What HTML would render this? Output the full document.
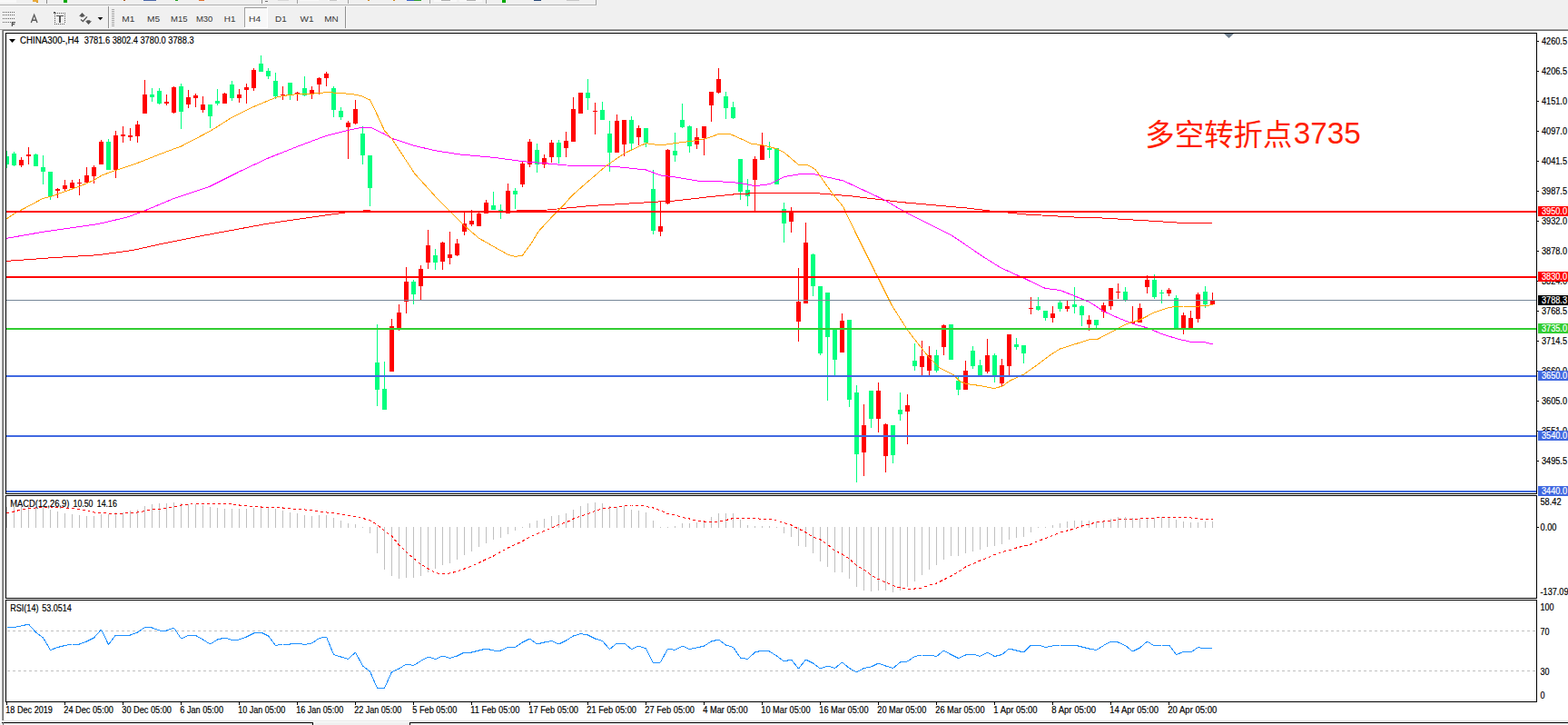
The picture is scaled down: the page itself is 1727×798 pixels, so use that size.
<!DOCTYPE html>
<html><head><meta charset="utf-8"><title>CHINA300-,H4</title>
<style>html,body{margin:0;padding:0;background:#f0f0f0;overflow:hidden}body{width:1727px;height:798px;position:relative;font-family:"Liberation Sans",sans-serif}svg{position:absolute;left:0;top:0;display:block}text{font-family:"Liberation Sans",sans-serif}</style>
</head><body>
<svg width="1727" height="798" viewBox="0 0 1727 798">
<rect x="0" y="0" width="1727" height="798" fill="#f0f0f0"/>
<g shape-rendering="crispEdges">
<rect x="0" y="0" width="18" height="3" fill="#f8f8f8"/>
<rect x="36" y="0" width="6" height="2" fill="#e8a93a"/>
<rect x="40" y="2" width="2" height="1" fill="#d89020"/>
<rect x="51" y="0" width="1" height="4" fill="#8c8c8c"/>
<rect x="70" y="0" width="4" height="3" fill="#00a800"/>
<rect x="136" y="0" width="2" height="1" fill="#a85a10"/>
<rect x="158" y="0" width="14" height="1" fill="#4a66a8"/>
<rect x="193" y="0" width="3" height="1" fill="#20a020"/>
<rect x="219" y="0" width="6" height="1" fill="#e07030"/>
<rect x="288" y="0" width="1" height="4" fill="#8c8c8c"/>
<rect x="292" y="1" width="3" height="1" fill="#707070"/>
<rect x="306" y="0" width="12" height="1" fill="#d8d8d8"/>
<rect x="327" y="0" width="1" height="4" fill="#a0a0a0"/>
<rect x="330" y="0" width="21" height="1" fill="#f8f8f8"/>
<rect x="361" y="0" width="13" height="1" fill="#f8f8f8"/>
<rect x="363" y="0" width="8" height="1" fill="#c8c8c8"/>
<rect x="383" y="0" width="1" height="4" fill="#a0a0a0"/>
<rect x="405" y="0" width="2" height="1" fill="#d08a20"/>
<rect x="433" y="0" width="2" height="1" fill="#d08a20"/>
<rect x="448" y="0" width="8" height="1" fill="#3a62c8"/>
<rect x="456" y="0" width="8" height="1" fill="#30a030"/>
<rect x="473" y="0" width="1" height="4" fill="#a0a0a0"/>
<rect x="478" y="0" width="25" height="2" fill="#f8f8f8"/>
<rect x="486" y="0" width="10" height="1" fill="#b0b0b0"/>
<rect x="506" y="0" width="25" height="2" fill="#f8f8f8"/>
<rect x="514" y="0" width="10" height="1" fill="#b0b0b0"/>
<rect x="535" y="0" width="1" height="4" fill="#a0a0a0"/>
<rect x="553" y="0" width="4" height="3" fill="#00a800"/>
<rect x="588" y="0" width="8" height="1" fill="#284878"/>
<rect x="624" y="0" width="14" height="1" fill="#c8c8c8"/>
<rect x="656" y="0" width="1" height="6" fill="#a0a0a0"/>
<rect x="0" y="5" width="657" height="1" fill="#b0b0b0"/>
<rect x="0" y="6" width="656" height="1" fill="#f8f8f8"/>
<rect x="3" y="13" width="1" height="1" fill="#606060"/>
<rect x="5" y="13" width="1" height="1" fill="#606060"/>
<rect x="7" y="13" width="1" height="1" fill="#606060"/>
<rect x="9" y="13" width="1" height="1" fill="#606060"/>
<rect x="11" y="13" width="1" height="1" fill="#606060"/>
<rect x="13" y="13" width="1" height="1" fill="#606060"/>
<rect x="15" y="13" width="1" height="1" fill="#606060"/>
<rect x="3" y="16" width="1" height="1" fill="#606060"/>
<rect x="5" y="16" width="1" height="1" fill="#606060"/>
<rect x="7" y="16" width="1" height="1" fill="#606060"/>
<rect x="9" y="16" width="1" height="1" fill="#606060"/>
<rect x="11" y="16" width="1" height="1" fill="#606060"/>
<rect x="13" y="16" width="1" height="1" fill="#606060"/>
<rect x="15" y="16" width="1" height="1" fill="#606060"/>
<rect x="3" y="20" width="1" height="1" fill="#606060"/>
<rect x="5" y="20" width="1" height="1" fill="#606060"/>
<rect x="7" y="20" width="1" height="1" fill="#606060"/>
<rect x="9" y="20" width="1" height="1" fill="#606060"/>
<rect x="11" y="20" width="1" height="1" fill="#606060"/>
<rect x="13" y="20" width="1" height="1" fill="#606060"/>
<rect x="15" y="20" width="1" height="1" fill="#606060"/>
<rect x="3" y="24" width="1" height="1" fill="#606060"/>
<rect x="5" y="24" width="1" height="1" fill="#606060"/>
<rect x="7" y="24" width="1" height="1" fill="#606060"/>
<rect x="9" y="24" width="1" height="1" fill="#606060"/>
<rect x="11" y="24" width="1" height="1" fill="#606060"/>
</g>
<path d="M13.4 28.9 V24.6 H16.9 M13.4 26.7 H16.2" fill="none" stroke="#505050" stroke-width="1.25"/>
<path d="M34.3 25 L37.65 16.3 L41 25 M35.6 22.2 H39.7" fill="none" stroke="#5a5a5a" stroke-width="1.35" stroke-linejoin="miter"/>
<g shape-rendering="crispEdges">
<rect x="63" y="14" width="1" height="1" fill="#585858"/>
<rect x="65" y="14" width="1" height="1" fill="#585858"/>
<rect x="67" y="14" width="1" height="1" fill="#585858"/>
<rect x="69" y="14" width="1" height="1" fill="#585858"/>
<rect x="71" y="14" width="1" height="1" fill="#585858"/>
<rect x="59" y="13" width="2" height="1" fill="#585858"/>
<rect x="59" y="14" width="3" height="1" fill="#585858"/>
<rect x="60" y="16" width="1" height="1" fill="#585858"/>
<rect x="60" y="18" width="1" height="1" fill="#585858"/>
<rect x="60" y="20" width="1" height="1" fill="#585858"/>
<rect x="60" y="22" width="1" height="1" fill="#585858"/>
<rect x="60" y="24" width="1" height="1" fill="#585858"/>
<rect x="60" y="26" width="1" height="1" fill="#585858"/>
<rect x="71" y="16" width="1" height="1" fill="#585858"/>
<rect x="71" y="18" width="1" height="1" fill="#585858"/>
<rect x="71" y="20" width="1" height="1" fill="#585858"/>
<rect x="71" y="22" width="1" height="1" fill="#585858"/>
<rect x="71" y="24" width="1" height="1" fill="#585858"/>
<rect x="62" y="26" width="1" height="1" fill="#585858"/>
<rect x="64" y="26" width="1" height="1" fill="#585858"/>
<rect x="66" y="26" width="1" height="1" fill="#585858"/>
<rect x="68" y="26" width="1" height="1" fill="#585858"/>
<rect x="70" y="26" width="1" height="1" fill="#585858"/>
<rect x="62" y="17" width="8" height="1" fill="#555555"/>
<rect x="65" y="17" width="2" height="8" fill="#555555"/>
</g>
<path d="M90.5 14 L94 17.8 L92.2 17.8 L92.2 18.8 L88.8 18.8 L88.8 17.8 L87 17.8 Z" fill="#555"/>
<path d="M97.5 27 L101 23.2 L99.2 23.2 L99.2 22.3 L95.6 22.3 L95.6 23.2 L94 23.2 Z" fill="#555"/>
<path d="M89 21.4 L91.4 23.5 L95.9 18.4" fill="none" stroke="#555" stroke-width="1.3"/>
<path d="M107.6 19 L113.4 19 L110.5 22.3 Z" fill="#111"/>
<g shape-rendering="crispEdges">
<rect x="119" y="7" width="1" height="25" fill="#909090"/>
<rect x="120" y="7" width="1" height="25" fill="#fafafa"/>
<rect x="123" y="10" width="3" height="1" fill="#a8a8a8"/>
<rect x="123" y="12" width="3" height="1" fill="#a8a8a8"/>
<rect x="123" y="14" width="3" height="1" fill="#a8a8a8"/>
<rect x="123" y="16" width="3" height="1" fill="#a8a8a8"/>
<rect x="123" y="18" width="3" height="1" fill="#a8a8a8"/>
<rect x="123" y="20" width="3" height="1" fill="#a8a8a8"/>
<rect x="123" y="22" width="3" height="1" fill="#a8a8a8"/>
<rect x="123" y="24" width="3" height="1" fill="#a8a8a8"/>
<rect x="123" y="26" width="3" height="1" fill="#a8a8a8"/>
<rect x="123" y="28" width="3" height="1" fill="#a8a8a8"/>
<rect x="269" y="8" width="26" height="23" fill="#f8f8f8"/>
<rect x="269" y="8" width="25" height="1" fill="#a0a0a0"/>
<rect x="269" y="8" width="1" height="22" fill="#a0a0a0"/>
<rect x="294" y="8" width="1" height="23" fill="#ffffff"/>
<rect x="269" y="30" width="26" height="1" fill="#ffffff"/>
<rect x="380" y="7" width="1" height="25" fill="#909090"/>
<rect x="381" y="7" width="1" height="25" fill="#fafafa"/>
</g>
<text x="134.2" y="24" font-size="9.8" fill="#383838" textLength="14.1" lengthAdjust="spacingAndGlyphs">M1</text>
<text x="162" y="24" font-size="9.8" fill="#383838" textLength="14.1" lengthAdjust="spacingAndGlyphs">M5</text>
<text x="188.1" y="24" font-size="9.8" fill="#383838" textLength="18.5" lengthAdjust="spacingAndGlyphs">M15</text>
<text x="215.9" y="24" font-size="9.8" fill="#383838" textLength="18.5" lengthAdjust="spacingAndGlyphs">M30</text>
<text x="246.8" y="24" font-size="9.8" fill="#383838" textLength="12.7" lengthAdjust="spacingAndGlyphs">H1</text>
<text x="274.1" y="24" font-size="9.8" fill="#383838" textLength="13.1" lengthAdjust="spacingAndGlyphs">H4</text>
<text x="303" y="24" font-size="9.8" fill="#383838" textLength="12.7" lengthAdjust="spacingAndGlyphs">D1</text>
<text x="330.6" y="24" font-size="9.8" fill="#383838" textLength="15" lengthAdjust="spacingAndGlyphs">W1</text>
<text x="357.2" y="24" font-size="9.8" fill="#383838" textLength="15.5" lengthAdjust="spacingAndGlyphs">MN</text>
<g shape-rendering="crispEdges">
<rect x="0" y="31" width="1727" height="1" fill="#f8f8f8"/>
<rect x="0" y="32" width="1727" height="1" fill="#a0a0a0"/>
<rect x="3" y="33" width="1724" height="1" fill="#696969"/>
<rect x="2" y="32" width="1" height="761" fill="#a0a0a0"/>
<rect x="3" y="33" width="1" height="760" fill="#696969"/>
<rect x="4" y="34" width="1723" height="759" fill="#ffffff"/>
<rect x="0" y="33" width="2" height="760" fill="#f6f6f6"/>
<rect x="0" y="793" width="1727" height="1" fill="#fafafa"/>
<rect x="4" y="793" width="1723" height="1" fill="#e6e6e6"/>
<rect x="0" y="794" width="1727" height="1" fill="#fcfcfc"/>
<rect x="0" y="795" width="1727" height="3" fill="#f0f0f0"/>
<rect x="2" y="795" width="343" height="1" fill="#000000"/>
<rect x="344" y="795" width="1" height="3" fill="#000000"/>
<rect x="3" y="795" width="1" height="3" fill="#696969"/>
<rect x="451" y="795" width="1276" height="1" fill="#000000"/>
<rect x="451" y="795" width="1" height="3" fill="#000000"/>
<rect x="4" y="796" width="340" height="2" fill="#f4f4f4"/>
<rect x="452" y="796" width="1275" height="2" fill="#f4f4f4"/>
</g>
<rect x="6.5" y="36.5" width="1686" height="507" fill="#ffffff" stroke="#000" stroke-width="1" shape-rendering="crispEdges"/>
<rect x="6.5" y="545.5" width="1686" height="113" fill="#ffffff" stroke="#000" stroke-width="1" shape-rendering="crispEdges"/>
<rect x="6.5" y="660.5" width="1686" height="112" fill="#ffffff" stroke="#000" stroke-width="1" shape-rendering="crispEdges"/>
<defs><clipPath id="cm"><rect x="7" y="37" width="1685" height="506"/></clipPath></defs>
<g clip-path="url(#cm)" shape-rendering="crispEdges">
<rect x="7" y="166" width="1" height="19" fill="#00ff7f"/>
<rect x="5" y="172" width="5" height="9" fill="#00ff7f"/>
<rect x="15" y="167" width="1" height="16" fill="#00ff7f"/>
<rect x="13" y="169" width="5" height="13" fill="#00ff7f"/>
<rect x="23" y="173" width="1" height="11" fill="#ff0000"/>
<rect x="21" y="176" width="5" height="6" fill="#ff0000"/>
<rect x="31" y="162" width="1" height="19" fill="#ff0000"/>
<rect x="29" y="170" width="5" height="2" fill="#ff0000"/>
<rect x="39" y="169" width="1" height="14" fill="#00ff7f"/>
<rect x="37" y="170" width="5" height="13" fill="#00ff7f"/>
<rect x="47" y="171" width="1" height="32" fill="#00ff7f"/>
<rect x="45" y="184" width="5" height="5" fill="#00ff7f"/>
<rect x="55" y="189" width="1" height="31" fill="#00ff7f"/>
<rect x="53" y="189" width="5" height="27" fill="#00ff7f"/>
<rect x="63" y="207" width="1" height="11" fill="#ff0000"/>
<rect x="61" y="208" width="5" height="2" fill="#ff0000"/>
<rect x="71" y="198" width="1" height="13" fill="#ff0000"/>
<rect x="69" y="204" width="5" height="4" fill="#ff0000"/>
<rect x="79" y="198" width="1" height="11" fill="#ff0000"/>
<rect x="77" y="201" width="5" height="6" fill="#ff0000"/>
<rect x="87" y="197" width="1" height="18" fill="#ff0000"/>
<rect x="85" y="201" width="5" height="1" fill="#ff0000"/>
<rect x="95" y="184" width="1" height="17" fill="#ff0000"/>
<rect x="93" y="193" width="5" height="8" fill="#ff0000"/>
<rect x="103" y="182" width="1" height="20" fill="#ff0000"/>
<rect x="101" y="184" width="5" height="10" fill="#ff0000"/>
<rect x="111" y="154" width="1" height="27" fill="#ff0000"/>
<rect x="109" y="156" width="5" height="25" fill="#ff0000"/>
<rect x="119" y="153" width="1" height="34" fill="#00ff7f"/>
<rect x="117" y="156" width="5" height="31" fill="#00ff7f"/>
<rect x="127" y="144" width="1" height="52" fill="#ff0000"/>
<rect x="125" y="149" width="5" height="38" fill="#ff0000"/>
<rect x="135" y="139" width="1" height="18" fill="#ff0000"/>
<rect x="133" y="148" width="5" height="2" fill="#ff0000"/>
<rect x="143" y="141" width="1" height="14" fill="#ff0000"/>
<rect x="141" y="149" width="5" height="2" fill="#ff0000"/>
<rect x="151" y="133" width="1" height="24" fill="#ff0000"/>
<rect x="149" y="137" width="5" height="13" fill="#ff0000"/>
<rect x="159" y="88" width="1" height="37" fill="#ff0000"/>
<rect x="157" y="104" width="5" height="21" fill="#ff0000"/>
<rect x="167" y="97" width="1" height="15" fill="#00ff7f"/>
<rect x="165" y="104" width="5" height="3" fill="#00ff7f"/>
<rect x="175" y="97" width="1" height="18" fill="#00ff7f"/>
<rect x="173" y="100" width="5" height="14" fill="#00ff7f"/>
<rect x="183" y="104" width="1" height="12" fill="#ff0000"/>
<rect x="181" y="112" width="5" height="2" fill="#ff0000"/>
<rect x="191" y="95" width="1" height="30" fill="#ff0000"/>
<rect x="189" y="96" width="5" height="28" fill="#ff0000"/>
<rect x="199" y="92" width="1" height="50" fill="#00ff7f"/>
<rect x="197" y="95" width="5" height="28" fill="#00ff7f"/>
<rect x="207" y="99" width="1" height="20" fill="#ff0000"/>
<rect x="205" y="107" width="5" height="8" fill="#ff0000"/>
<rect x="215" y="103" width="1" height="15" fill="#ff0000"/>
<rect x="213" y="105" width="5" height="3" fill="#ff0000"/>
<rect x="223" y="106" width="1" height="18" fill="#ff0000"/>
<rect x="221" y="115" width="5" height="6" fill="#ff0000"/>
<rect x="231" y="115" width="1" height="26" fill="#00ff7f"/>
<rect x="229" y="115" width="5" height="13" fill="#00ff7f"/>
<rect x="239" y="98" width="1" height="18" fill="#00ff7f"/>
<rect x="237" y="111" width="5" height="3" fill="#00ff7f"/>
<rect x="247" y="102" width="1" height="12" fill="#ff0000"/>
<rect x="245" y="103" width="5" height="11" fill="#ff0000"/>
<rect x="255" y="89" width="1" height="22" fill="#00ff7f"/>
<rect x="253" y="93" width="5" height="15" fill="#00ff7f"/>
<rect x="263" y="98" width="1" height="15" fill="#ff0000"/>
<rect x="261" y="104" width="5" height="4" fill="#ff0000"/>
<rect x="271" y="92" width="1" height="22" fill="#ff0000"/>
<rect x="269" y="96" width="5" height="3" fill="#ff0000"/>
<rect x="279" y="75" width="1" height="25" fill="#ff0000"/>
<rect x="277" y="77" width="5" height="20" fill="#ff0000"/>
<rect x="287" y="61" width="1" height="18" fill="#00ff7f"/>
<rect x="285" y="70" width="5" height="9" fill="#00ff7f"/>
<rect x="295" y="75" width="1" height="12" fill="#00ff7f"/>
<rect x="293" y="78" width="5" height="6" fill="#00ff7f"/>
<rect x="303" y="80" width="1" height="29" fill="#00ff7f"/>
<rect x="301" y="89" width="5" height="17" fill="#00ff7f"/>
<rect x="311" y="95" width="1" height="15" fill="#ff0000"/>
<rect x="309" y="104" width="5" height="1" fill="#ff0000"/>
<rect x="319" y="91" width="1" height="19" fill="#00ff7f"/>
<rect x="317" y="91" width="5" height="14" fill="#00ff7f"/>
<rect x="327" y="101" width="1" height="10" fill="#ff0000"/>
<rect x="325" y="102" width="5" height="2" fill="#ff0000"/>
<rect x="335" y="84" width="1" height="22" fill="#00ff7f"/>
<rect x="333" y="97" width="5" height="8" fill="#00ff7f"/>
<rect x="343" y="95" width="1" height="14" fill="#ff0000"/>
<rect x="341" y="99" width="5" height="4" fill="#ff0000"/>
<rect x="351" y="85" width="1" height="19" fill="#ff0000"/>
<rect x="349" y="86" width="5" height="7" fill="#ff0000"/>
<rect x="359" y="79" width="1" height="16" fill="#ff0000"/>
<rect x="357" y="81" width="5" height="5" fill="#ff0000"/>
<rect x="367" y="95" width="1" height="34" fill="#00ff7f"/>
<rect x="365" y="97" width="5" height="24" fill="#00ff7f"/>
<rect x="375" y="118" width="1" height="14" fill="#00ff7f"/>
<rect x="373" y="122" width="5" height="7" fill="#00ff7f"/>
<rect x="383" y="133" width="1" height="42" fill="#ff0000"/>
<rect x="381" y="135" width="5" height="5" fill="#ff0000"/>
<rect x="391" y="110" width="1" height="27" fill="#ff0000"/>
<rect x="389" y="120" width="5" height="16" fill="#ff0000"/>
<rect x="399" y="139" width="1" height="42" fill="#00ff7f"/>
<rect x="397" y="147" width="5" height="24" fill="#00ff7f"/>
<rect x="407" y="171" width="1" height="56" fill="#00ff7f"/>
<rect x="405" y="171" width="5" height="36" fill="#00ff7f"/>
<rect x="415" y="357" width="1" height="90" fill="#00ff7f"/>
<rect x="413" y="399" width="5" height="30" fill="#00ff7f"/>
<rect x="423" y="398" width="1" height="53" fill="#00ff7f"/>
<rect x="421" y="428" width="5" height="23" fill="#00ff7f"/>
<rect x="431" y="351" width="1" height="58" fill="#ff0000"/>
<rect x="429" y="359" width="5" height="50" fill="#ff0000"/>
<rect x="439" y="335" width="1" height="29" fill="#ff0000"/>
<rect x="437" y="344" width="5" height="18" fill="#ff0000"/>
<rect x="447" y="294" width="1" height="51" fill="#ff0000"/>
<rect x="445" y="310" width="5" height="22" fill="#ff0000"/>
<rect x="455" y="308" width="1" height="27" fill="#00ff7f"/>
<rect x="453" y="310" width="5" height="14" fill="#00ff7f"/>
<rect x="463" y="292" width="1" height="39" fill="#ff0000"/>
<rect x="461" y="296" width="5" height="19" fill="#ff0000"/>
<rect x="471" y="253" width="1" height="43" fill="#ff0000"/>
<rect x="469" y="270" width="5" height="19" fill="#ff0000"/>
<rect x="479" y="274" width="1" height="23" fill="#00ff7f"/>
<rect x="477" y="281" width="5" height="8" fill="#00ff7f"/>
<rect x="487" y="266" width="1" height="31" fill="#ff0000"/>
<rect x="485" y="267" width="5" height="21" fill="#ff0000"/>
<rect x="495" y="255" width="1" height="36" fill="#ff0000"/>
<rect x="493" y="280" width="5" height="4" fill="#ff0000"/>
<rect x="503" y="263" width="1" height="19" fill="#ff0000"/>
<rect x="501" y="268" width="5" height="13" fill="#ff0000"/>
<rect x="511" y="233" width="1" height="26" fill="#ff0000"/>
<rect x="509" y="246" width="5" height="9" fill="#ff0000"/>
<rect x="519" y="231" width="1" height="18" fill="#ff0000"/>
<rect x="517" y="243" width="5" height="4" fill="#ff0000"/>
<rect x="527" y="234" width="1" height="15" fill="#ff0000"/>
<rect x="525" y="235" width="5" height="14" fill="#ff0000"/>
<rect x="535" y="220" width="1" height="15" fill="#ff0000"/>
<rect x="533" y="223" width="5" height="12" fill="#ff0000"/>
<rect x="543" y="211" width="1" height="20" fill="#00ff7f"/>
<rect x="541" y="226" width="5" height="5" fill="#00ff7f"/>
<rect x="551" y="225" width="1" height="16" fill="#00ff7f"/>
<rect x="549" y="231" width="5" height="1" fill="#00ff7f"/>
<rect x="559" y="202" width="1" height="33" fill="#ff0000"/>
<rect x="557" y="210" width="5" height="25" fill="#ff0000"/>
<rect x="567" y="207" width="1" height="23" fill="#00ff7f"/>
<rect x="565" y="210" width="5" height="4" fill="#00ff7f"/>
<rect x="575" y="178" width="1" height="28" fill="#ff0000"/>
<rect x="573" y="180" width="5" height="23" fill="#ff0000"/>
<rect x="583" y="153" width="1" height="31" fill="#ff0000"/>
<rect x="581" y="156" width="5" height="25" fill="#ff0000"/>
<rect x="591" y="158" width="1" height="32" fill="#00ff7f"/>
<rect x="589" y="165" width="5" height="16" fill="#00ff7f"/>
<rect x="599" y="170" width="1" height="15" fill="#ff0000"/>
<rect x="597" y="174" width="5" height="7" fill="#ff0000"/>
<rect x="607" y="154" width="1" height="25" fill="#ff0000"/>
<rect x="605" y="157" width="5" height="16" fill="#ff0000"/>
<rect x="615" y="154" width="1" height="26" fill="#00ff7f"/>
<rect x="613" y="157" width="5" height="16" fill="#00ff7f"/>
<rect x="623" y="145" width="1" height="28" fill="#ff0000"/>
<rect x="621" y="155" width="5" height="8" fill="#ff0000"/>
<rect x="631" y="107" width="1" height="49" fill="#ff0000"/>
<rect x="629" y="120" width="5" height="36" fill="#ff0000"/>
<rect x="639" y="102" width="1" height="23" fill="#ff0000"/>
<rect x="637" y="102" width="5" height="23" fill="#ff0000"/>
<rect x="647" y="87" width="1" height="34" fill="#00ff7f"/>
<rect x="645" y="102" width="5" height="6" fill="#00ff7f"/>
<rect x="655" y="113" width="1" height="35" fill="#ff0000"/>
<rect x="653" y="122" width="5" height="1" fill="#ff0000"/>
<rect x="663" y="112" width="1" height="20" fill="#00ff7f"/>
<rect x="661" y="121" width="5" height="11" fill="#00ff7f"/>
<rect x="671" y="133" width="1" height="56" fill="#00ff7f"/>
<rect x="669" y="147" width="5" height="21" fill="#00ff7f"/>
<rect x="679" y="126" width="1" height="42" fill="#ff0000"/>
<rect x="677" y="133" width="5" height="35" fill="#ff0000"/>
<rect x="687" y="132" width="1" height="40" fill="#ff0000"/>
<rect x="685" y="132" width="5" height="27" fill="#ff0000"/>
<rect x="695" y="128" width="1" height="37" fill="#00ff7f"/>
<rect x="693" y="132" width="5" height="26" fill="#00ff7f"/>
<rect x="703" y="138" width="1" height="22" fill="#ff0000"/>
<rect x="701" y="141" width="5" height="10" fill="#ff0000"/>
<rect x="711" y="141" width="1" height="21" fill="#00ff7f"/>
<rect x="709" y="141" width="5" height="16" fill="#00ff7f"/>
<rect x="719" y="187" width="1" height="71" fill="#00ff7f"/>
<rect x="717" y="208" width="5" height="46" fill="#00ff7f"/>
<rect x="727" y="221" width="1" height="39" fill="#ff0000"/>
<rect x="725" y="249" width="5" height="6" fill="#ff0000"/>
<rect x="735" y="164" width="1" height="61" fill="#ff0000"/>
<rect x="733" y="165" width="5" height="59" fill="#ff0000"/>
<rect x="743" y="146" width="1" height="32" fill="#00ff7f"/>
<rect x="741" y="166" width="5" height="5" fill="#00ff7f"/>
<rect x="751" y="114" width="1" height="27" fill="#00ff7f"/>
<rect x="749" y="132" width="5" height="8" fill="#00ff7f"/>
<rect x="759" y="138" width="1" height="30" fill="#00ff7f"/>
<rect x="757" y="139" width="5" height="22" fill="#00ff7f"/>
<rect x="767" y="141" width="1" height="23" fill="#ff0000"/>
<rect x="765" y="151" width="5" height="8" fill="#ff0000"/>
<rect x="775" y="139" width="1" height="32" fill="#ff0000"/>
<rect x="773" y="139" width="5" height="13" fill="#ff0000"/>
<rect x="783" y="101" width="1" height="33" fill="#ff0000"/>
<rect x="781" y="101" width="5" height="15" fill="#ff0000"/>
<rect x="791" y="75" width="1" height="28" fill="#ff0000"/>
<rect x="789" y="87" width="5" height="15" fill="#ff0000"/>
<rect x="799" y="101" width="1" height="30" fill="#00ff7f"/>
<rect x="797" y="106" width="5" height="13" fill="#00ff7f"/>
<rect x="807" y="112" width="1" height="19" fill="#00ff7f"/>
<rect x="805" y="118" width="5" height="12" fill="#00ff7f"/>
<rect x="815" y="175" width="1" height="45" fill="#00ff7f"/>
<rect x="813" y="175" width="5" height="36" fill="#00ff7f"/>
<rect x="823" y="197" width="1" height="30" fill="#00ff7f"/>
<rect x="821" y="209" width="5" height="7" fill="#00ff7f"/>
<rect x="831" y="172" width="1" height="62" fill="#ff0000"/>
<rect x="829" y="175" width="5" height="23" fill="#ff0000"/>
<rect x="839" y="146" width="1" height="30" fill="#ff0000"/>
<rect x="837" y="160" width="5" height="16" fill="#ff0000"/>
<rect x="847" y="156" width="1" height="18" fill="#00ff7f"/>
<rect x="845" y="163" width="5" height="2" fill="#00ff7f"/>
<rect x="855" y="163" width="1" height="40" fill="#00ff7f"/>
<rect x="853" y="163" width="5" height="40" fill="#00ff7f"/>
<rect x="863" y="223" width="1" height="44" fill="#00ff7f"/>
<rect x="861" y="230" width="5" height="16" fill="#00ff7f"/>
<rect x="871" y="228" width="1" height="28" fill="#ff0000"/>
<rect x="869" y="232" width="5" height="12" fill="#ff0000"/>
<rect x="879" y="295" width="1" height="81" fill="#ff0000"/>
<rect x="877" y="332" width="5" height="22" fill="#ff0000"/>
<rect x="887" y="245" width="1" height="89" fill="#ff0000"/>
<rect x="885" y="267" width="5" height="67" fill="#ff0000"/>
<rect x="895" y="279" width="1" height="47" fill="#00ff7f"/>
<rect x="893" y="280" width="5" height="35" fill="#00ff7f"/>
<rect x="903" y="315" width="1" height="76" fill="#00ff7f"/>
<rect x="901" y="315" width="5" height="74" fill="#00ff7f"/>
<rect x="911" y="322" width="1" height="119" fill="#00ff7f"/>
<rect x="909" y="322" width="5" height="49" fill="#00ff7f"/>
<rect x="919" y="362" width="1" height="51" fill="#00ff7f"/>
<rect x="917" y="362" width="5" height="34" fill="#00ff7f"/>
<rect x="927" y="345" width="1" height="43" fill="#ff0000"/>
<rect x="925" y="353" width="5" height="35" fill="#ff0000"/>
<rect x="935" y="352" width="1" height="96" fill="#00ff7f"/>
<rect x="933" y="352" width="5" height="88" fill="#00ff7f"/>
<rect x="943" y="424" width="1" height="107" fill="#00ff7f"/>
<rect x="941" y="432" width="5" height="68" fill="#00ff7f"/>
<rect x="951" y="445" width="1" height="79" fill="#ff0000"/>
<rect x="949" y="468" width="5" height="30" fill="#ff0000"/>
<rect x="959" y="430" width="1" height="41" fill="#00ff7f"/>
<rect x="957" y="430" width="5" height="31" fill="#00ff7f"/>
<rect x="967" y="421" width="1" height="55" fill="#ff0000"/>
<rect x="965" y="430" width="5" height="31" fill="#ff0000"/>
<rect x="975" y="466" width="1" height="54" fill="#ff0000"/>
<rect x="973" y="467" width="5" height="35" fill="#ff0000"/>
<rect x="983" y="468" width="1" height="42" fill="#00ff7f"/>
<rect x="981" y="468" width="5" height="33" fill="#00ff7f"/>
<rect x="991" y="432" width="1" height="31" fill="#00ff7f"/>
<rect x="989" y="451" width="5" height="5" fill="#00ff7f"/>
<rect x="999" y="434" width="1" height="55" fill="#ff0000"/>
<rect x="997" y="446" width="5" height="7" fill="#ff0000"/>
<rect x="1007" y="378" width="1" height="30" fill="#00ff7f"/>
<rect x="1005" y="397" width="5" height="6" fill="#00ff7f"/>
<rect x="1015" y="375" width="1" height="38" fill="#ff0000"/>
<rect x="1013" y="392" width="5" height="12" fill="#ff0000"/>
<rect x="1023" y="381" width="1" height="32" fill="#ff0000"/>
<rect x="1021" y="391" width="5" height="17" fill="#ff0000"/>
<rect x="1031" y="385" width="1" height="25" fill="#00ff7f"/>
<rect x="1029" y="391" width="5" height="17" fill="#00ff7f"/>
<rect x="1039" y="357" width="1" height="34" fill="#ff0000"/>
<rect x="1037" y="358" width="5" height="24" fill="#ff0000"/>
<rect x="1047" y="357" width="1" height="39" fill="#00ff7f"/>
<rect x="1045" y="357" width="5" height="39" fill="#00ff7f"/>
<rect x="1055" y="415" width="1" height="20" fill="#00ff7f"/>
<rect x="1053" y="419" width="5" height="10" fill="#00ff7f"/>
<rect x="1063" y="397" width="1" height="32" fill="#ff0000"/>
<rect x="1061" y="408" width="5" height="21" fill="#ff0000"/>
<rect x="1071" y="381" width="1" height="25" fill="#00ff7f"/>
<rect x="1069" y="386" width="5" height="17" fill="#00ff7f"/>
<rect x="1079" y="396" width="1" height="17" fill="#00ff7f"/>
<rect x="1077" y="402" width="5" height="11" fill="#00ff7f"/>
<rect x="1087" y="373" width="1" height="38" fill="#ff0000"/>
<rect x="1085" y="391" width="5" height="18" fill="#ff0000"/>
<rect x="1095" y="389" width="1" height="32" fill="#00ff7f"/>
<rect x="1093" y="391" width="5" height="24" fill="#00ff7f"/>
<rect x="1103" y="395" width="1" height="30" fill="#ff0000"/>
<rect x="1101" y="402" width="5" height="20" fill="#ff0000"/>
<rect x="1111" y="368" width="1" height="45" fill="#ff0000"/>
<rect x="1109" y="368" width="5" height="35" fill="#ff0000"/>
<rect x="1119" y="372" width="1" height="13" fill="#00ff7f"/>
<rect x="1117" y="379" width="5" height="3" fill="#00ff7f"/>
<rect x="1127" y="380" width="1" height="20" fill="#00ff7f"/>
<rect x="1125" y="380" width="5" height="9" fill="#00ff7f"/>
<rect x="1135" y="327" width="1" height="19" fill="#ff0000"/>
<rect x="1133" y="339" width="5" height="1" fill="#ff0000"/>
<rect x="1143" y="327" width="1" height="15" fill="#00ff7f"/>
<rect x="1141" y="337" width="5" height="4" fill="#00ff7f"/>
<rect x="1151" y="342" width="1" height="11" fill="#00ff7f"/>
<rect x="1149" y="342" width="5" height="8" fill="#00ff7f"/>
<rect x="1159" y="337" width="1" height="18" fill="#ff0000"/>
<rect x="1157" y="345" width="5" height="5" fill="#ff0000"/>
<rect x="1167" y="330" width="1" height="13" fill="#00ff7f"/>
<rect x="1165" y="333" width="5" height="7" fill="#00ff7f"/>
<rect x="1175" y="331" width="1" height="12" fill="#ff0000"/>
<rect x="1173" y="337" width="5" height="3" fill="#ff0000"/>
<rect x="1183" y="316" width="1" height="29" fill="#00ff7f"/>
<rect x="1181" y="335" width="5" height="3" fill="#00ff7f"/>
<rect x="1191" y="336" width="1" height="23" fill="#00ff7f"/>
<rect x="1189" y="337" width="5" height="10" fill="#00ff7f"/>
<rect x="1199" y="347" width="1" height="17" fill="#ff0000"/>
<rect x="1197" y="352" width="5" height="5" fill="#ff0000"/>
<rect x="1207" y="352" width="1" height="9" fill="#00ff7f"/>
<rect x="1205" y="352" width="5" height="6" fill="#00ff7f"/>
<rect x="1215" y="333" width="1" height="17" fill="#ff0000"/>
<rect x="1213" y="336" width="5" height="7" fill="#ff0000"/>
<rect x="1223" y="317" width="1" height="24" fill="#ff0000"/>
<rect x="1221" y="317" width="5" height="20" fill="#ff0000"/>
<rect x="1231" y="312" width="1" height="17" fill="#ff0000"/>
<rect x="1229" y="321" width="5" height="1" fill="#ff0000"/>
<rect x="1239" y="316" width="1" height="16" fill="#00ff7f"/>
<rect x="1237" y="321" width="5" height="10" fill="#00ff7f"/>
<rect x="1247" y="337" width="1" height="20" fill="#ff0000"/>
<rect x="1245" y="354" width="5" height="2" fill="#ff0000"/>
<rect x="1255" y="334" width="1" height="21" fill="#ff0000"/>
<rect x="1253" y="339" width="5" height="16" fill="#ff0000"/>
<rect x="1263" y="303" width="1" height="20" fill="#ff0000"/>
<rect x="1261" y="308" width="5" height="8" fill="#ff0000"/>
<rect x="1271" y="302" width="1" height="27" fill="#00ff7f"/>
<rect x="1269" y="308" width="5" height="19" fill="#00ff7f"/>
<rect x="1279" y="319" width="1" height="15" fill="#00ff7f"/>
<rect x="1277" y="322" width="5" height="1" fill="#00ff7f"/>
<rect x="1287" y="317" width="1" height="9" fill="#ff0000"/>
<rect x="1285" y="319" width="5" height="4" fill="#ff0000"/>
<rect x="1295" y="325" width="1" height="36" fill="#00ff7f"/>
<rect x="1293" y="328" width="5" height="33" fill="#00ff7f"/>
<rect x="1303" y="344" width="1" height="24" fill="#ff0000"/>
<rect x="1301" y="347" width="5" height="14" fill="#ff0000"/>
<rect x="1311" y="342" width="1" height="19" fill="#ff0000"/>
<rect x="1309" y="350" width="5" height="11" fill="#ff0000"/>
<rect x="1319" y="322" width="1" height="33" fill="#ff0000"/>
<rect x="1317" y="324" width="5" height="27" fill="#ff0000"/>
<rect x="1327" y="315" width="1" height="24" fill="#00ff7f"/>
<rect x="1325" y="321" width="5" height="14" fill="#00ff7f"/>
<rect x="1335" y="322" width="1" height="13" fill="#ff0000"/>
<rect x="1333" y="330" width="5" height="5" fill="#ff0000"/>
</g>
<g clip-path="url(#cm)" shape-rendering="crispEdges" fill="none" stroke-width="1" stroke-linejoin="bevel">
<polyline points="7,287.4 57.6,283.7 107.8,280.7 145.4,275.6 175.4,269 220.6,259.9 250.6,254.3 295.7,246 350.9,238 383.5,233.5 405,231.5 411,232.5 500,232.5 566,232.5 572,231.5 603,231 650.6,226.5 682.6,224.7 719.5,222.3 743.5,221 782.9,216.5 815.5,213.2 839.5,212.7 864,212.7 899,212.7 939,216 994,222.7 1064.5,229 1092.6,232.3 1129.7,236 1182.9,239 1211,239.8 1245,241.8 1275,243.6 1300,245.3 1335,246" stroke="#ff0000"/>
<polyline points="7,262.4 50,254.8 107.8,246.6 140.4,239 160.4,231.5 191.5,218.5 231.6,205 263.4,189 295.5,174 327.6,161.3 359.6,149.3 383.5,143.3 399.5,140 407.5,140 423.5,147.5 432,152.5 457,160.6 482,166.3 507,170 543.5,173.3 575.6,177.6 599.4,179.6 623.5,182 667.6,182.6 687.6,184.4 711.5,187 727.7,193 743.5,195 767.8,199 791.6,199.7 815.5,201.4 831.5,204.7 847.5,202.7 864,194.6 879,192 895,191.4 929,199 974,220 994.9,232.3 1047.5,258.6 1082.6,282.4 1102.7,295 1127.7,306.2 1151.5,317.5 1167.8,319.5 1183.6,325.8 1200,332.5 1215.5,342.6 1231.6,350 1247.6,356.4 1263.7,360.9 1279.7,367.6 1295.5,372.6 1311.5,376.4 1327.6,377 1335.6,378.9" stroke="#ff00ff"/>
<polyline points="7,241 16,235 26.3,229.6 47.6,218.3 55.5,216.5 71.4,210.8 87.5,205.2 103.5,198.3 112.8,192.7 127.4,187.4 151.6,179.4 175.4,170 199.5,161 231.6,144.3 255.4,129.2 279.4,117.5 303.5,107.4 319.5,104.2 343.6,103.2 359.6,101.7 375.4,102.4 391.5,104.2 399.5,106.2 407.5,110 416,127.5 423.5,143.8 432,153.3 457,191.4 482,219 495,232.3 511.5,248.6 527.8,262.4 545.4,272.4 560.4,280.7 568,282.4 575.4,281.2 585.5,267.4 593,254.8 608,238.6 620.6,226 629.3,216 640,206.4 667.6,182.6 687.6,168.8 711.5,157.6 727.7,160 743.5,157.6 767.8,154.5 778,152.5 791.6,147.5 803,147 815.5,152.5 828,158.3 839.5,159.6 855.5,163.8 864,168 879,181 889,181.4 898,186.4 916.6,212.7 928.5,227.3 942.3,256 964.8,301.2 982.4,336.3 999.9,363.9 1017.5,386.4 1022.5,392.5 1035,405 1050,412.6 1057.6,420 1065,422.6 1080,424.6 1095,427.6 1104,425 1112.7,418.8 1127.7,412 1142.8,401.3 1157.8,390 1167.8,383.9 1183.6,378.9 1199.7,373.9 1208.8,373.4 1223.8,365.6 1240,357 1255.6,352 1271.7,343.8 1287.7,338.3 1303.5,337 1311.5,338 1327.6,336.3 1335.6,335.8" stroke="#ffa500"/>
</g>
<g clip-path="url(#cm)" shape-rendering="crispEdges">
<rect x="7" y="330" width="1685" height="1" fill="#778899"/>
<rect x="7" y="232" width="1685" height="2" fill="#ff0000"/>
<rect x="7" y="304" width="1685" height="2" fill="#ff0000"/>
<rect x="7" y="361" width="1685" height="2" fill="#32cd32"/>
<rect x="7" y="413" width="1685" height="2" fill="#4169e1"/>
<rect x="7" y="479" width="1685" height="2" fill="#4169e1"/>
<rect x="7" y="540" width="1685" height="2" fill="#4169e1"/>
</g>
<path d="M1348 37 L1359 37 L1353.5 42 Z" fill="#708090"/>
<path d="M10 43 L17 43 L13.5 47 Z" fill="#000"/>
<text x="22" y="48" font-size="10" fill="#000" stroke="#000" stroke-width="0.18" xml:space="preserve" textLength="65" lengthAdjust="spacingAndGlyphs">CHINA300-,H4</text>
<text x="92.8" y="48" font-size="10" fill="#000" stroke="#000" stroke-width="0.18" xml:space="preserve" textLength="120.8" lengthAdjust="spacingAndGlyphs">3781.6 3802.4 3780.0 3788.3</text>
<text x="11.2" y="558" font-size="10" fill="#000" stroke="#000" stroke-width="0.18" xml:space="preserve" textLength="65.1" lengthAdjust="spacingAndGlyphs">MACD(12,26,9)</text>
<text x="80.5" y="558" font-size="10" fill="#000" stroke="#000" stroke-width="0.18" xml:space="preserve" textLength="22" lengthAdjust="spacingAndGlyphs">10.50</text>
<text x="106.8" y="558" font-size="10" fill="#000" stroke="#000" stroke-width="0.18" xml:space="preserve" textLength="22" lengthAdjust="spacingAndGlyphs">14.16</text>
<text x="11.2" y="673" font-size="10" fill="#000" stroke="#000" stroke-width="0.18" xml:space="preserve" textLength="31.3" lengthAdjust="spacingAndGlyphs">RSI(14)</text>
<text x="46.3" y="673" font-size="10" fill="#000" stroke="#000" stroke-width="0.18" xml:space="preserve" textLength="32.5" lengthAdjust="spacingAndGlyphs">53.0514</text>
<g shape-rendering="crispEdges">
<rect x="1693" y="45" width="2" height="1" fill="#000"/>
<rect x="1693" y="78" width="2" height="1" fill="#000"/>
<rect x="1693" y="111" width="2" height="1" fill="#000"/>
<rect x="1693" y="144" width="2" height="1" fill="#000"/>
<rect x="1693" y="177" width="2" height="1" fill="#000"/>
<rect x="1693" y="210" width="2" height="1" fill="#000"/>
<rect x="1693" y="243" width="2" height="1" fill="#000"/>
<rect x="1693" y="276" width="2" height="1" fill="#000"/>
<rect x="1693" y="309" width="2" height="1" fill="#000"/>
<rect x="1693" y="342" width="2" height="1" fill="#000"/>
<rect x="1693" y="375" width="2" height="1" fill="#000"/>
<rect x="1693" y="408" width="2" height="1" fill="#000"/>
<rect x="1693" y="441" width="2" height="1" fill="#000"/>
<rect x="1693" y="474" width="2" height="1" fill="#000"/>
<rect x="1693" y="507" width="2" height="1" fill="#000"/>
<rect x="1693" y="580" width="2" height="1" fill="#000"/>
</g>
<text x="1698" y="49" font-size="10" fill="#000" stroke="#000" stroke-width="0.18" xml:space="preserve" textLength="28" lengthAdjust="spacingAndGlyphs">4260.5</text>
<text x="1698" y="82" font-size="10" fill="#000" stroke="#000" stroke-width="0.18" xml:space="preserve" textLength="28" lengthAdjust="spacingAndGlyphs">4206.5</text>
<text x="1698" y="115" font-size="10" fill="#000" stroke="#000" stroke-width="0.18" xml:space="preserve" textLength="28" lengthAdjust="spacingAndGlyphs">4151.0</text>
<text x="1698" y="148" font-size="10" fill="#000" stroke="#000" stroke-width="0.18" xml:space="preserve" textLength="28" lengthAdjust="spacingAndGlyphs">4097.0</text>
<text x="1698" y="181" font-size="10" fill="#000" stroke="#000" stroke-width="0.18" xml:space="preserve" textLength="28" lengthAdjust="spacingAndGlyphs">4041.5</text>
<text x="1698" y="214" font-size="10" fill="#000" stroke="#000" stroke-width="0.18" xml:space="preserve" textLength="28" lengthAdjust="spacingAndGlyphs">3987.5</text>
<text x="1698" y="247" font-size="10" fill="#000" stroke="#000" stroke-width="0.18" xml:space="preserve" textLength="28" lengthAdjust="spacingAndGlyphs">3932.0</text>
<text x="1698" y="280" font-size="10" fill="#000" stroke="#000" stroke-width="0.18" xml:space="preserve" textLength="28" lengthAdjust="spacingAndGlyphs">3878.0</text>
<text x="1698" y="313" font-size="10" fill="#000" stroke="#000" stroke-width="0.18" xml:space="preserve" textLength="28" lengthAdjust="spacingAndGlyphs">3824.0</text>
<text x="1698" y="346" font-size="10" fill="#000" stroke="#000" stroke-width="0.18" xml:space="preserve" textLength="28" lengthAdjust="spacingAndGlyphs">3768.5</text>
<text x="1698" y="379" font-size="10" fill="#000" stroke="#000" stroke-width="0.18" xml:space="preserve" textLength="28" lengthAdjust="spacingAndGlyphs">3714.5</text>
<text x="1698" y="412" font-size="10" fill="#000" stroke="#000" stroke-width="0.18" xml:space="preserve" textLength="28" lengthAdjust="spacingAndGlyphs">3660.0</text>
<text x="1698" y="445" font-size="10" fill="#000" stroke="#000" stroke-width="0.18" xml:space="preserve" textLength="28" lengthAdjust="spacingAndGlyphs">3605.0</text>
<text x="1698" y="478" font-size="10" fill="#000" stroke="#000" stroke-width="0.18" xml:space="preserve" textLength="28" lengthAdjust="spacingAndGlyphs">3551.0</text>
<text x="1698" y="511" font-size="10" fill="#000" stroke="#000" stroke-width="0.18" xml:space="preserve" textLength="28" lengthAdjust="spacingAndGlyphs">3495.5</text>
<rect x="1694" y="227" width="33" height="11" fill="#ff0000" shape-rendering="crispEdges"/>
<text x="1698" y="236" font-size="10" fill="#fff" stroke="#fff" stroke-width="0.18" xml:space="preserve" textLength="28" lengthAdjust="spacingAndGlyphs">3950.0</text>
<rect x="1694" y="299" width="33" height="11" fill="#ff0000" shape-rendering="crispEdges"/>
<text x="1698" y="308" font-size="10" fill="#fff" stroke="#fff" stroke-width="0.18" xml:space="preserve" textLength="28" lengthAdjust="spacingAndGlyphs">3830.0</text>
<rect x="1694" y="325" width="33" height="11" fill="#000000" shape-rendering="crispEdges"/>
<text x="1698" y="334" font-size="10" fill="#fff" stroke="#fff" stroke-width="0.18" xml:space="preserve" textLength="28" lengthAdjust="spacingAndGlyphs">3788.3</text>
<rect x="1694" y="356" width="33" height="11" fill="#32cd32" shape-rendering="crispEdges"/>
<text x="1698" y="365" font-size="10" fill="#fff" stroke="#fff" stroke-width="0.18" xml:space="preserve" textLength="28" lengthAdjust="spacingAndGlyphs">3735.0</text>
<rect x="1694" y="408" width="33" height="11" fill="#4169e1" shape-rendering="crispEdges"/>
<text x="1698" y="417" font-size="10" fill="#fff" stroke="#fff" stroke-width="0.18" xml:space="preserve" textLength="28" lengthAdjust="spacingAndGlyphs">3650.0</text>
<rect x="1694" y="474" width="33" height="11" fill="#4169e1" shape-rendering="crispEdges"/>
<text x="1698" y="483" font-size="10" fill="#fff" stroke="#fff" stroke-width="0.18" xml:space="preserve" textLength="28" lengthAdjust="spacingAndGlyphs">3540.0</text>
<rect x="1694" y="535" width="33" height="11" fill="#4169e1" shape-rendering="crispEdges"/>
<text x="1698" y="544" font-size="10" fill="#fff" stroke="#fff" stroke-width="0.18" xml:space="preserve" textLength="28" lengthAdjust="spacingAndGlyphs">3440.0</text>
<text x="1696.5" y="556" font-size="10" fill="#000" stroke="#000" stroke-width="0.18" xml:space="preserve" textLength="23" lengthAdjust="spacingAndGlyphs">58.42</text>
<text x="1696.5" y="584" font-size="10" fill="#000" stroke="#000" stroke-width="0.18" xml:space="preserve" textLength="18" lengthAdjust="spacingAndGlyphs">0.00</text>
<text x="1696.5" y="655" font-size="10" fill="#000" stroke="#000" stroke-width="0.18" xml:space="preserve" textLength="31" lengthAdjust="spacingAndGlyphs">-137.09</text>
<text x="1696.5" y="671.6" font-size="10" fill="#000" stroke="#000" stroke-width="0.18" xml:space="preserve" textLength="15" lengthAdjust="spacingAndGlyphs">100</text>
<text x="1696.5" y="698.5" font-size="10" fill="#000" stroke="#000" stroke-width="0.18" xml:space="preserve" textLength="10" lengthAdjust="spacingAndGlyphs">70</text>
<text x="1696.5" y="742.5" font-size="10" fill="#000" stroke="#000" stroke-width="0.18" xml:space="preserve" textLength="10" lengthAdjust="spacingAndGlyphs">30</text>
<text x="1696.5" y="769.2" font-size="10" fill="#000" stroke="#000" stroke-width="0.18" xml:space="preserve" textLength="5" lengthAdjust="spacingAndGlyphs">0</text>
<g shape-rendering="crispEdges">
<rect x="7" y="558" width="1" height="23" fill="#c0c0c0"/>
<rect x="15" y="555" width="1" height="26" fill="#c0c0c0"/>
<rect x="23" y="556" width="1" height="25" fill="#c0c0c0"/>
<rect x="31" y="556" width="1" height="25" fill="#c0c0c0"/>
<rect x="39" y="556" width="1" height="25" fill="#c0c0c0"/>
<rect x="47" y="558" width="1" height="23" fill="#c0c0c0"/>
<rect x="55" y="561" width="1" height="20" fill="#c0c0c0"/>
<rect x="63" y="563" width="1" height="18" fill="#c0c0c0"/>
<rect x="71" y="565" width="1" height="16" fill="#c0c0c0"/>
<rect x="79" y="566" width="1" height="15" fill="#c0c0c0"/>
<rect x="87" y="567" width="1" height="14" fill="#c0c0c0"/>
<rect x="95" y="568" width="1" height="13" fill="#c0c0c0"/>
<rect x="103" y="568" width="1" height="13" fill="#c0c0c0"/>
<rect x="111" y="566" width="1" height="15" fill="#c0c0c0"/>
<rect x="119" y="566" width="1" height="15" fill="#c0c0c0"/>
<rect x="127" y="564" width="1" height="17" fill="#c0c0c0"/>
<rect x="135" y="564" width="1" height="17" fill="#c0c0c0"/>
<rect x="143" y="562" width="1" height="19" fill="#c0c0c0"/>
<rect x="151" y="561" width="1" height="20" fill="#c0c0c0"/>
<rect x="159" y="557" width="1" height="24" fill="#c0c0c0"/>
<rect x="167" y="555" width="1" height="26" fill="#c0c0c0"/>
<rect x="175" y="554" width="1" height="27" fill="#c0c0c0"/>
<rect x="183" y="554" width="1" height="27" fill="#c0c0c0"/>
<rect x="191" y="553" width="1" height="28" fill="#c0c0c0"/>
<rect x="199" y="554" width="1" height="27" fill="#c0c0c0"/>
<rect x="207" y="555" width="1" height="26" fill="#c0c0c0"/>
<rect x="215" y="555" width="1" height="26" fill="#c0c0c0"/>
<rect x="223" y="556" width="1" height="25" fill="#c0c0c0"/>
<rect x="231" y="558" width="1" height="23" fill="#c0c0c0"/>
<rect x="239" y="559" width="1" height="22" fill="#c0c0c0"/>
<rect x="247" y="560" width="1" height="21" fill="#c0c0c0"/>
<rect x="255" y="560" width="1" height="21" fill="#c0c0c0"/>
<rect x="263" y="560" width="1" height="21" fill="#c0c0c0"/>
<rect x="271" y="560" width="1" height="21" fill="#c0c0c0"/>
<rect x="279" y="559" width="1" height="22" fill="#c0c0c0"/>
<rect x="287" y="558" width="1" height="23" fill="#c0c0c0"/>
<rect x="295" y="558" width="1" height="23" fill="#c0c0c0"/>
<rect x="303" y="560" width="1" height="21" fill="#c0c0c0"/>
<rect x="311" y="562" width="1" height="19" fill="#c0c0c0"/>
<rect x="319" y="564" width="1" height="17" fill="#c0c0c0"/>
<rect x="327" y="565" width="1" height="16" fill="#c0c0c0"/>
<rect x="335" y="567" width="1" height="14" fill="#c0c0c0"/>
<rect x="343" y="568" width="1" height="13" fill="#c0c0c0"/>
<rect x="351" y="567" width="1" height="14" fill="#c0c0c0"/>
<rect x="359" y="567" width="1" height="14" fill="#c0c0c0"/>
<rect x="367" y="570" width="1" height="11" fill="#c0c0c0"/>
<rect x="375" y="573" width="1" height="8" fill="#c0c0c0"/>
<rect x="383" y="576" width="1" height="5" fill="#c0c0c0"/>
<rect x="391" y="577" width="1" height="4" fill="#c0c0c0"/>
<rect x="399" y="580" width="1" height="1" fill="#c0c0c0"/>
<rect x="407" y="580" width="1" height="7" fill="#c0c0c0"/>
<rect x="415" y="580" width="1" height="29" fill="#c0c0c0"/>
<rect x="423" y="580" width="1" height="47" fill="#c0c0c0"/>
<rect x="431" y="580" width="1" height="54" fill="#c0c0c0"/>
<rect x="439" y="580" width="1" height="57" fill="#c0c0c0"/>
<rect x="447" y="580" width="1" height="56" fill="#c0c0c0"/>
<rect x="455" y="580" width="1" height="56" fill="#c0c0c0"/>
<rect x="463" y="580" width="1" height="54" fill="#c0c0c0"/>
<rect x="471" y="580" width="1" height="50" fill="#c0c0c0"/>
<rect x="479" y="580" width="1" height="46" fill="#c0c0c0"/>
<rect x="487" y="580" width="1" height="42" fill="#c0c0c0"/>
<rect x="495" y="580" width="1" height="40" fill="#c0c0c0"/>
<rect x="503" y="580" width="1" height="36" fill="#c0c0c0"/>
<rect x="511" y="580" width="1" height="31" fill="#c0c0c0"/>
<rect x="519" y="580" width="1" height="27" fill="#c0c0c0"/>
<rect x="527" y="580" width="1" height="22" fill="#c0c0c0"/>
<rect x="535" y="580" width="1" height="18" fill="#c0c0c0"/>
<rect x="543" y="580" width="1" height="14" fill="#c0c0c0"/>
<rect x="551" y="580" width="1" height="12" fill="#c0c0c0"/>
<rect x="559" y="580" width="1" height="8" fill="#c0c0c0"/>
<rect x="567" y="580" width="1" height="4" fill="#c0c0c0"/>
<rect x="575" y="580" width="1" height="1" fill="#c0c0c0"/>
<rect x="583" y="576" width="1" height="5" fill="#c0c0c0"/>
<rect x="591" y="573" width="1" height="8" fill="#c0c0c0"/>
<rect x="599" y="571" width="1" height="10" fill="#c0c0c0"/>
<rect x="607" y="568" width="1" height="13" fill="#c0c0c0"/>
<rect x="615" y="567" width="1" height="14" fill="#c0c0c0"/>
<rect x="623" y="565" width="1" height="16" fill="#c0c0c0"/>
<rect x="631" y="561" width="1" height="20" fill="#c0c0c0"/>
<rect x="639" y="557" width="1" height="24" fill="#c0c0c0"/>
<rect x="647" y="554" width="1" height="27" fill="#c0c0c0"/>
<rect x="655" y="553" width="1" height="28" fill="#c0c0c0"/>
<rect x="663" y="554" width="1" height="27" fill="#c0c0c0"/>
<rect x="671" y="557" width="1" height="24" fill="#c0c0c0"/>
<rect x="679" y="558" width="1" height="23" fill="#c0c0c0"/>
<rect x="687" y="557" width="1" height="24" fill="#c0c0c0"/>
<rect x="695" y="561" width="1" height="20" fill="#c0c0c0"/>
<rect x="703" y="562" width="1" height="19" fill="#c0c0c0"/>
<rect x="711" y="564" width="1" height="17" fill="#c0c0c0"/>
<rect x="719" y="573" width="1" height="8" fill="#c0c0c0"/>
<rect x="727" y="580" width="1" height="1" fill="#c0c0c0"/>
<rect x="735" y="580" width="1" height="1" fill="#c0c0c0"/>
<rect x="743" y="579" width="1" height="2" fill="#c0c0c0"/>
<rect x="751" y="576" width="1" height="5" fill="#c0c0c0"/>
<rect x="759" y="576" width="1" height="5" fill="#c0c0c0"/>
<rect x="767" y="575" width="1" height="6" fill="#c0c0c0"/>
<rect x="775" y="574" width="1" height="7" fill="#c0c0c0"/>
<rect x="783" y="569" width="1" height="12" fill="#c0c0c0"/>
<rect x="791" y="565" width="1" height="16" fill="#c0c0c0"/>
<rect x="799" y="565" width="1" height="16" fill="#c0c0c0"/>
<rect x="807" y="565" width="1" height="16" fill="#c0c0c0"/>
<rect x="815" y="572" width="1" height="9" fill="#c0c0c0"/>
<rect x="823" y="578" width="1" height="3" fill="#c0c0c0"/>
<rect x="831" y="579" width="1" height="2" fill="#c0c0c0"/>
<rect x="839" y="579" width="1" height="2" fill="#c0c0c0"/>
<rect x="847" y="579" width="1" height="2" fill="#c0c0c0"/>
<rect x="855" y="580" width="1" height="1" fill="#c0c0c0"/>
<rect x="863" y="580" width="1" height="7" fill="#c0c0c0"/>
<rect x="871" y="580" width="1" height="11" fill="#c0c0c0"/>
<rect x="879" y="580" width="1" height="21" fill="#c0c0c0"/>
<rect x="887" y="580" width="1" height="22" fill="#c0c0c0"/>
<rect x="895" y="580" width="1" height="29" fill="#c0c0c0"/>
<rect x="903" y="580" width="1" height="38" fill="#c0c0c0"/>
<rect x="911" y="580" width="1" height="44" fill="#c0c0c0"/>
<rect x="919" y="580" width="1" height="50" fill="#c0c0c0"/>
<rect x="927" y="580" width="1" height="50" fill="#c0c0c0"/>
<rect x="935" y="580" width="1" height="57" fill="#c0c0c0"/>
<rect x="943" y="580" width="1" height="66" fill="#c0c0c0"/>
<rect x="951" y="580" width="1" height="70" fill="#c0c0c0"/>
<rect x="959" y="580" width="1" height="71" fill="#c0c0c0"/>
<rect x="967" y="580" width="1" height="70" fill="#c0c0c0"/>
<rect x="975" y="580" width="1" height="70" fill="#c0c0c0"/>
<rect x="983" y="580" width="1" height="72" fill="#c0c0c0"/>
<rect x="991" y="580" width="1" height="70" fill="#c0c0c0"/>
<rect x="999" y="580" width="1" height="66" fill="#c0c0c0"/>
<rect x="1007" y="580" width="1" height="60" fill="#c0c0c0"/>
<rect x="1015" y="580" width="1" height="53" fill="#c0c0c0"/>
<rect x="1023" y="580" width="1" height="47" fill="#c0c0c0"/>
<rect x="1031" y="580" width="1" height="42" fill="#c0c0c0"/>
<rect x="1039" y="580" width="1" height="36" fill="#c0c0c0"/>
<rect x="1047" y="580" width="1" height="32" fill="#c0c0c0"/>
<rect x="1055" y="580" width="1" height="32" fill="#c0c0c0"/>
<rect x="1063" y="580" width="1" height="29" fill="#c0c0c0"/>
<rect x="1071" y="580" width="1" height="27" fill="#c0c0c0"/>
<rect x="1079" y="580" width="1" height="25" fill="#c0c0c0"/>
<rect x="1087" y="580" width="1" height="22" fill="#c0c0c0"/>
<rect x="1095" y="580" width="1" height="21" fill="#c0c0c0"/>
<rect x="1103" y="580" width="1" height="19" fill="#c0c0c0"/>
<rect x="1111" y="580" width="1" height="14" fill="#c0c0c0"/>
<rect x="1119" y="580" width="1" height="12" fill="#c0c0c0"/>
<rect x="1127" y="580" width="1" height="11" fill="#c0c0c0"/>
<rect x="1135" y="580" width="1" height="6" fill="#c0c0c0"/>
<rect x="1143" y="580" width="1" height="1" fill="#c0c0c0"/>
<rect x="1151" y="580" width="1" height="1" fill="#c0c0c0"/>
<rect x="1159" y="578" width="1" height="3" fill="#c0c0c0"/>
<rect x="1167" y="576" width="1" height="5" fill="#c0c0c0"/>
<rect x="1175" y="574" width="1" height="7" fill="#c0c0c0"/>
<rect x="1183" y="573" width="1" height="8" fill="#c0c0c0"/>
<rect x="1191" y="573" width="1" height="8" fill="#c0c0c0"/>
<rect x="1199" y="573" width="1" height="8" fill="#c0c0c0"/>
<rect x="1207" y="574" width="1" height="7" fill="#c0c0c0"/>
<rect x="1215" y="574" width="1" height="7" fill="#c0c0c0"/>
<rect x="1223" y="571" width="1" height="10" fill="#c0c0c0"/>
<rect x="1231" y="569" width="1" height="12" fill="#c0c0c0"/>
<rect x="1239" y="569" width="1" height="12" fill="#c0c0c0"/>
<rect x="1247" y="570" width="1" height="11" fill="#c0c0c0"/>
<rect x="1255" y="571" width="1" height="10" fill="#c0c0c0"/>
<rect x="1263" y="570" width="1" height="11" fill="#c0c0c0"/>
<rect x="1271" y="570" width="1" height="11" fill="#c0c0c0"/>
<rect x="1279" y="569" width="1" height="12" fill="#c0c0c0"/>
<rect x="1287" y="570" width="1" height="11" fill="#c0c0c0"/>
<rect x="1295" y="572" width="1" height="9" fill="#c0c0c0"/>
<rect x="1303" y="574" width="1" height="7" fill="#c0c0c0"/>
<rect x="1311" y="575" width="1" height="6" fill="#c0c0c0"/>
<rect x="1319" y="575" width="1" height="6" fill="#c0c0c0"/>
<rect x="1327" y="574" width="1" height="7" fill="#c0c0c0"/>
<rect x="1335" y="574" width="1" height="7" fill="#c0c0c0"/>
</g>
<polyline points="7.5,565 23.5,561 39.5,559 55.5,558 71.5,559 87.5,560.5 103.5,564 119.5,565 135.5,565 151.5,564 167.5,561 183.5,559.5 199.5,556 215.5,554.5 239.5,554.5 255.5,555 271.5,557 287.5,558 303.5,558 319.5,560 335.5,561 351.5,563 367.5,565 383.5,567.5 399.5,570.5 407.5,572.5 415.5,577.5 423.5,584.5 431.5,590 439.5,600 447.5,607.5 455.5,614.5 463.5,621 471.5,626 479.5,630.5 487.5,632 495.5,631 503.5,629 511.5,626 519.5,623 527.5,619.5 535.5,615.5 543.5,612 551.5,607.5 559.5,603 567.5,599.5 575.5,595.5 583.5,591 591.5,587.5 599.5,584.5 607.5,581 615.5,577.5 623.5,575 631.5,571 639.5,568 647.5,565.5 655.5,562.5 663.5,560 671.5,559 679.5,558 687.5,557 695.5,556 703.5,556 711.5,557.5 719.5,559 727.5,562 735.5,565.5 743.5,567 751.5,569.5 759.5,571 767.5,573 775.5,574 783.5,574 791.5,574 799.5,572.5 807.5,570.5 815.5,570.5 823.5,570.5 831.5,570.5 839.5,571.5 850.5,571.5 863.5,575.5 871.5,578 879.5,582 887.5,586 895.5,591 903.5,594 911.5,599.5 919.5,606 927.5,610 935.5,615 943.5,622.5 951.5,627 959.5,633 967.5,637.5 975.5,641 983.5,644.5 991.5,647 999.5,648 1007.5,648 1015.5,647 1023.5,644 1031.5,642 1039.5,638 1047.5,634 1055.5,629.5 1063.5,624 1071.5,620.5 1079.5,617 1087.5,614 1095.5,610.5 1103.5,607.5 1111.5,606 1119.5,603 1127.5,601 1135.5,599 1143.5,595.5 1151.5,592.5 1159.5,589.5 1167.5,586 1175.5,584 1183.5,582 1191.5,579 1199.5,577 1207.5,575 1215.5,574 1223.5,573 1231.5,572 1239.5,571 1255.5,571 1271.5,570.5 1279.5,569 1295.5,569 1311.5,570 1319.5,571 1335.5,572" fill="none" stroke="#ff0000" stroke-width="1" stroke-dasharray="3,3" shape-rendering="crispEdges"/>
<g shape-rendering="crispEdges">
<line x1="8" y1="694.5" x2="1692" y2="694.5" stroke="#c0c0c0" stroke-dasharray="3,3"/>
<line x1="8" y1="738.5" x2="1692" y2="738.5" stroke="#c0c0c0" stroke-dasharray="3,3"/>
</g>
<polyline points="7.5,690.5 15.5,690.5 23.5,689 31.5,687 39.5,696 47.5,702 55.5,715.5 63.5,712.5 71.5,710.5 79.5,709 87.5,709 95.5,706 103.5,702 111.5,693 119.5,709.5 127.5,699 135.5,699 143.5,699 151.5,696 159.5,690.5 167.5,691 175.5,694 183.5,694 191.5,691 199.5,703 207.5,699.5 215.5,699.5 223.5,704 231.5,709 239.5,704 247.5,702 255.5,704.5 263.5,704 271.5,701 279.5,697 287.5,696 295.5,700 303.5,710.5 311.5,709 319.5,709 327.5,708 335.5,709.5 343.5,708 351.5,702.5 359.5,701 367.5,720.5 375.5,723 383.5,725.5 391.5,718 399.5,733 407.5,739 415.5,757.5 423.5,757.5 431.5,739.5 439.5,736 447.5,731 455.5,732.5 463.5,727.5 471.5,723 479.5,725.5 487.5,722 495.5,724.5 503.5,722 511.5,718 519.5,718 527.5,716 535.5,714 543.5,716 551.5,716 559.5,712.5 567.5,712.5 575.5,707 583.5,703 591.5,709 599.5,707 607.5,705.5 615.5,709 623.5,705 631.5,700 639.5,697.5 647.5,699 655.5,703 663.5,705.5 671.5,714.5 679.5,708 687.5,708 695.5,714.5 703.5,711 711.5,714 719.5,730 727.5,729 735.5,714 743.5,715.5 751.5,711 759.5,714.5 767.5,713 775.5,711 783.5,706 791.5,704 799.5,710 807.5,712.5 815.5,724 823.5,725.5 831.5,718 839.5,716 847.5,717 855.5,722 863.5,728 871.5,726 879.5,736 887.5,726 895.5,730 903.5,736 911.5,733 919.5,735.5 927.5,729 935.5,735.5 943.5,740 951.5,735.5 959.5,734 967.5,730 975.5,733 983.5,735.5 991.5,729 999.5,728 1007.5,722.5 1015.5,721 1023.5,721 1031.5,722.5 1039.5,716 1047.5,720.5 1055.5,724.5 1063.5,721 1071.5,720 1079.5,722.5 1087.5,718 1095.5,722.5 1103.5,720.5 1111.5,714 1119.5,716 1127.5,718 1135.5,710 1143.5,710 1151.5,712.5 1159.5,711 1167.5,710 1175.5,710 1183.5,710 1191.5,712 1199.5,714 1207.5,715.5 1215.5,710.5 1223.5,706 1231.5,707 1239.5,710.5 1247.5,717 1255.5,713 1263.5,706 1271.5,711 1279.5,710 1287.5,710 1295.5,720.5 1303.5,717.5 1311.5,718 1319.5,712.5 1327.5,714 1335.5,713" fill="none" stroke="#1e90ff" stroke-width="1" stroke-linejoin="bevel" shape-rendering="crispEdges"/>
<g shape-rendering="crispEdges">
<rect x="7" y="773" width="1" height="3" fill="#000"/>
<rect x="71" y="773" width="1" height="3" fill="#000"/>
<rect x="135" y="773" width="1" height="3" fill="#000"/>
<rect x="199" y="773" width="1" height="3" fill="#000"/>
<rect x="263" y="773" width="1" height="3" fill="#000"/>
<rect x="327" y="773" width="1" height="3" fill="#000"/>
<rect x="391" y="773" width="1" height="3" fill="#000"/>
<rect x="455" y="773" width="1" height="3" fill="#000"/>
<rect x="519" y="773" width="1" height="3" fill="#000"/>
<rect x="583" y="773" width="1" height="3" fill="#000"/>
<rect x="647" y="773" width="1" height="3" fill="#000"/>
<rect x="711" y="773" width="1" height="3" fill="#000"/>
<rect x="775" y="773" width="1" height="3" fill="#000"/>
<rect x="839" y="773" width="1" height="3" fill="#000"/>
<rect x="903" y="773" width="1" height="3" fill="#000"/>
<rect x="967" y="773" width="1" height="3" fill="#000"/>
<rect x="1031" y="773" width="1" height="3" fill="#000"/>
<rect x="1095" y="773" width="1" height="3" fill="#000"/>
<rect x="1159" y="773" width="1" height="3" fill="#000"/>
<rect x="1223" y="773" width="1" height="3" fill="#000"/>
<rect x="1287" y="773" width="1" height="3" fill="#000"/>
</g>
<text x="6.3" y="785" font-size="10" fill="#000" stroke="#000" stroke-width="0.18" xml:space="preserve" textLength="51.6" lengthAdjust="spacingAndGlyphs">18 Dec 2019</text>
<text x="70.3" y="785" font-size="10" fill="#000" stroke="#000" stroke-width="0.18" xml:space="preserve" textLength="54.7" lengthAdjust="spacingAndGlyphs">24 Dec 05:00</text>
<text x="134.3" y="785" font-size="10" fill="#000" stroke="#000" stroke-width="0.18" xml:space="preserve" textLength="54.7" lengthAdjust="spacingAndGlyphs">30 Dec 05:00</text>
<text x="198.3" y="785" font-size="10" fill="#000" stroke="#000" stroke-width="0.18" xml:space="preserve" textLength="47.7" lengthAdjust="spacingAndGlyphs">6 Jan 05:00</text>
<text x="262.3" y="785" font-size="10" fill="#000" stroke="#000" stroke-width="0.18" xml:space="preserve" textLength="52" lengthAdjust="spacingAndGlyphs">10 Jan 05:00</text>
<text x="326.3" y="785" font-size="10" fill="#000" stroke="#000" stroke-width="0.18" xml:space="preserve" textLength="52" lengthAdjust="spacingAndGlyphs">16 Jan 05:00</text>
<text x="390.3" y="785" font-size="10" fill="#000" stroke="#000" stroke-width="0.18" xml:space="preserve" textLength="52" lengthAdjust="spacingAndGlyphs">22 Jan 05:00</text>
<text x="454.3" y="785" font-size="10" fill="#000" stroke="#000" stroke-width="0.18" xml:space="preserve" textLength="49" lengthAdjust="spacingAndGlyphs">5 Feb 05:00</text>
<text x="518.3" y="785" font-size="10" fill="#000" stroke="#000" stroke-width="0.18" xml:space="preserve" textLength="54" lengthAdjust="spacingAndGlyphs">11 Feb 05:00</text>
<text x="582.3" y="785" font-size="10" fill="#000" stroke="#000" stroke-width="0.18" xml:space="preserve" textLength="54.7" lengthAdjust="spacingAndGlyphs">17 Feb 05:00</text>
<text x="646.3" y="785" font-size="10" fill="#000" stroke="#000" stroke-width="0.18" xml:space="preserve" textLength="54.7" lengthAdjust="spacingAndGlyphs">21 Feb 05:00</text>
<text x="710.3" y="785" font-size="10" fill="#000" stroke="#000" stroke-width="0.18" xml:space="preserve" textLength="54.7" lengthAdjust="spacingAndGlyphs">27 Feb 05:00</text>
<text x="774.3" y="785" font-size="10" fill="#000" stroke="#000" stroke-width="0.18" xml:space="preserve" textLength="49.3" lengthAdjust="spacingAndGlyphs">4 Mar 05:00</text>
<text x="838.3" y="785" font-size="10" fill="#000" stroke="#000" stroke-width="0.18" xml:space="preserve" textLength="54.3" lengthAdjust="spacingAndGlyphs">10 Mar 05:00</text>
<text x="902.3" y="785" font-size="10" fill="#000" stroke="#000" stroke-width="0.18" xml:space="preserve" textLength="54.3" lengthAdjust="spacingAndGlyphs">16 Mar 05:00</text>
<text x="966.3" y="785" font-size="10" fill="#000" stroke="#000" stroke-width="0.18" xml:space="preserve" textLength="54" lengthAdjust="spacingAndGlyphs">20 Mar 05:00</text>
<text x="1030.3" y="785" font-size="10" fill="#000" stroke="#000" stroke-width="0.18" xml:space="preserve" textLength="54.3" lengthAdjust="spacingAndGlyphs">26 Mar 05:00</text>
<text x="1094.3" y="785" font-size="10" fill="#000" stroke="#000" stroke-width="0.18" xml:space="preserve" textLength="48.3" lengthAdjust="spacingAndGlyphs">1 Apr 05:00</text>
<text x="1158.3" y="785" font-size="10" fill="#000" stroke="#000" stroke-width="0.18" xml:space="preserve" textLength="48.7" lengthAdjust="spacingAndGlyphs">8 Apr 05:00</text>
<text x="1222.3" y="785" font-size="10" fill="#000" stroke="#000" stroke-width="0.18" xml:space="preserve" textLength="53.7" lengthAdjust="spacingAndGlyphs">14 Apr 05:00</text>
<text x="1286.3" y="785" font-size="10" fill="#000" stroke="#000" stroke-width="0.18" xml:space="preserve" textLength="54" lengthAdjust="spacingAndGlyphs">20 Apr 05:00</text>
<g fill="#ff1e00"><title>多空转折点3735</title>
<text x="1261.35" y="159.5" font-size="33" fill="#ff1e00" style="font-family:'Liberation Sans','Noto Sans CJK SC',sans-serif" textLength="162" lengthAdjust="spacingAndGlyphs">多空转折点</text>
<text x="1424.7" y="158.2" font-size="33" fill="#ff1e00" style="font-family:'Liberation Sans','Noto Sans CJK SC',sans-serif" textLength="74" lengthAdjust="spacingAndGlyphs">3735</text>
</g>
</svg></body></html>
